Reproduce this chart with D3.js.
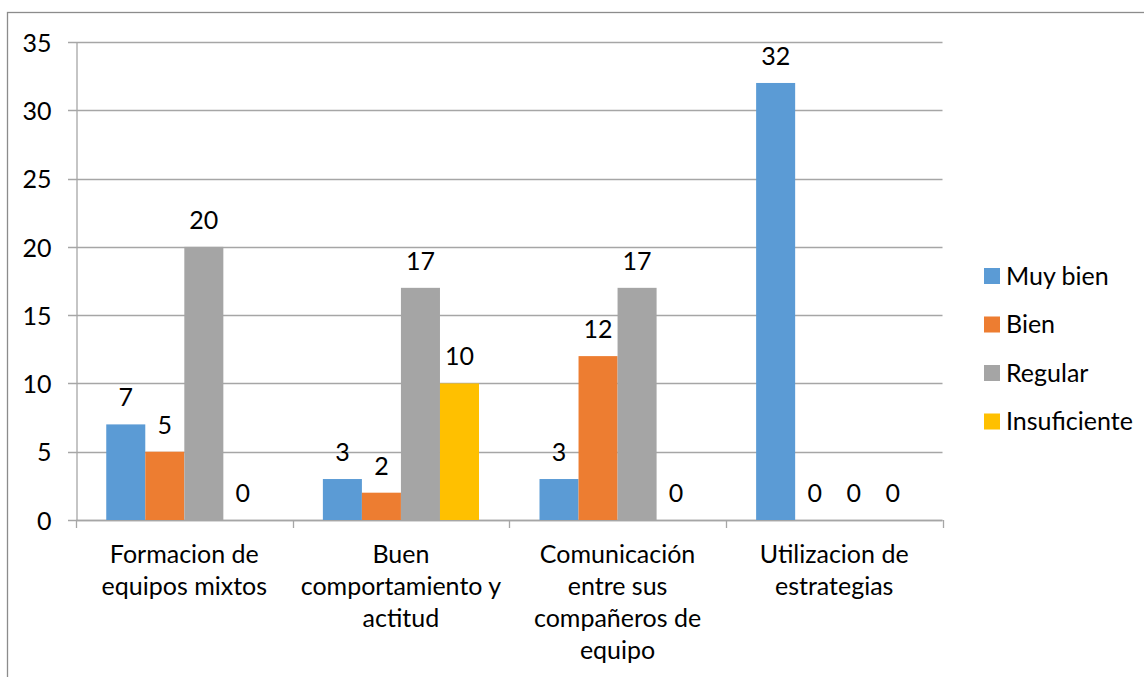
<!DOCTYPE html>
<html>
<head>
<meta charset="utf-8">
<script src="https://cdn.jsdelivr.net/npm/d3@7"></script>
<style>
  body { margin: 0; background: #fff; }
  svg text { font-family: Lato, "Open Sans", sans-serif; fill: #000; }
</style>
</head>
<body>
<svg id="chart" width="1144" height="677"></svg>
<script>
// chart data
const categories = [
  ["Formacion de", "equipos mixtos"],
  ["Buen", "comportamiento y", "actitud"],
  ["Comunicación", "entre sus", "compañeros de", "equipo"],
  ["Utilizacion de", "estrategias"]
];
const seriesNames = ["Muy bien", "Bien", "Regular", "Insuficiente"];
const muyBien = [7, 3, 3, 32];
const bien = [5, 2, 12, 0];
const regular = [20, 17, 17, 0];
const insuficiente = [0, 10, 0, 0];
const yTickValues = [0, 5, 10, 15, 20, 25, 30, 35];

const colors = ["#5b9bd5", "#ed7d31", "#a5a5a5", "#ffc000"];
const seriesValues = [muyBien, bien, regular, insuficiente];

const svg = d3.select("#chart");
const plot = { left: 76, right: 942.5, top: 42, bottom: 520 };
const fontSize = 25;

// chart border
svg.append("rect")
  .attr("x", 7.5).attr("y", 12.5)
  .attr("width", 1300).attr("height", 800)
  .attr("fill", "none").attr("stroke", "#8c8c8c").attr("stroke-width", 1.3);

const catKeys = categories.map((c, i) => "c" + i);

const x = d3.scaleBand()
  .domain(catKeys)
  .range([plot.left, plot.right])
  .paddingInner(0).paddingOuter(0);

// gap width 155% like excel
const xInner = d3.scaleBand()
  .domain(seriesNames)
  .range([0, x.bandwidth()])
  .paddingInner(0)
  .paddingOuter(0.775);

const y = d3.scaleLinear()
  .domain([0, 35])
  .range([plot.bottom, plot.top]);

// gridlines
svg.append("g")
  .selectAll("line")
  .data(yTickValues)
  .enter()
  .append("line")
  .attr("x1", plot.left - 8)
  .attr("x2", plot.right)
  .attr("y1", d => Math.round(y(d)) + 0.5)
  .attr("y2", d => Math.round(y(d)) + 0.5)
  .attr("stroke", "#a6a6a6")
  .attr("stroke-width", 1.3);

// y axis
const yAxis = svg.append("g")
  .attr("transform", "translate(" + (plot.left + 0.5) + ",0.5)")
  .call(d3.axisLeft(y).tickValues(yTickValues).tickSize(0).tickPadding(25));
yAxis.select(".domain").attr("stroke", "#a6a6a6").attr("stroke-width", 1.3);
yAxis.selectAll("text")
  .style("font-size", fontSize + "px")
  .attr("dy", "0.35em");

// x axis line and boundary ticks
const xAxis = svg.append("g");
xAxis.append("line")
  .attr("x1", plot.left).attr("x2", plot.right)
  .attr("y1", plot.bottom + 0.5).attr("y2", plot.bottom + 0.5)
  .attr("stroke", "#a6a6a6").attr("stroke-width", 1.3);
const boundaries = catKeys.map(k => x(k)).concat([x.range()[1]]);
xAxis.selectAll(".bt")
  .data(boundaries)
  .enter()
  .append("line")
  .attr("x1", d => Math.round(d) + 0.5)
  .attr("x2", d => Math.round(d) + 0.5)
  .attr("y1", plot.bottom)
  .attr("y2", plot.bottom + 8)
  .attr("stroke", "#a6a6a6").attr("stroke-width", 1.3);

// category labels
xAxis.selectAll(".cat")
  .data(categories)
  .enter()
  .append("text")
  .attr("text-anchor", "middle")
  .style("font-size", fontSize + "px")
  .attr("transform", (d, i) => "translate(" + (x(catKeys[i]) + x.bandwidth() / 2) + "," + (plot.bottom + 43) + ")")
  .each(function(lines) {
    d3.select(this).selectAll("tspan")
      .data(lines)
      .enter()
      .append("tspan")
      .attr("x", 0)
      .attr("y", (l, j) => j * 32)
      .text(l => l);
  });

// bars
const rows = [];
seriesNames.forEach((s, si) => {
  seriesValues[si].forEach((v, ci) => {
    rows.push({ series: s, si: si, cat: catKeys[ci], value: v });
  });
});

const groups = svg.append("g");
groups.selectAll("rect")
  .data(rows)
  .enter()
  .append("rect")
  .attr("x", d => x(d.cat) + xInner(d.series))
  .attr("y", d => y(d.value))
  .attr("width", xInner.bandwidth())
  .attr("height", d => y(0) - y(d.value))
  .attr("fill", d => colors[d.si]);

// value labels
groups.selectAll(".lbl")
  .data(rows)
  .enter()
  .append("text")
  .attr("text-anchor", "middle")
  .style("font-size", fontSize + "px")
  .attr("x", d => x(d.cat) + xInner(d.series) + xInner.bandwidth() / 2)
  .attr("y", d => y(d.value) - 18)
  .text(d => d.value);

// legend
const legend = svg.append("g")
  .attr("transform", "translate(984,276)");
const item = legend.selectAll("g")
  .data(seriesNames)
  .enter()
  .append("g")
  .attr("transform", (d, i) => "translate(0," + i * 48.5 + ")");
item.append("rect")
  .attr("x", 0).attr("y", -8)
  .attr("width", 16).attr("height", 16)
  .attr("fill", (d, i) => colors[i]);
item.append("text")
  .attr("x", 22)
  .attr("dy", "0.35em")
  .style("font-size", fontSize + "px")
  .text(d => d);
</script>
</body>
</html>
